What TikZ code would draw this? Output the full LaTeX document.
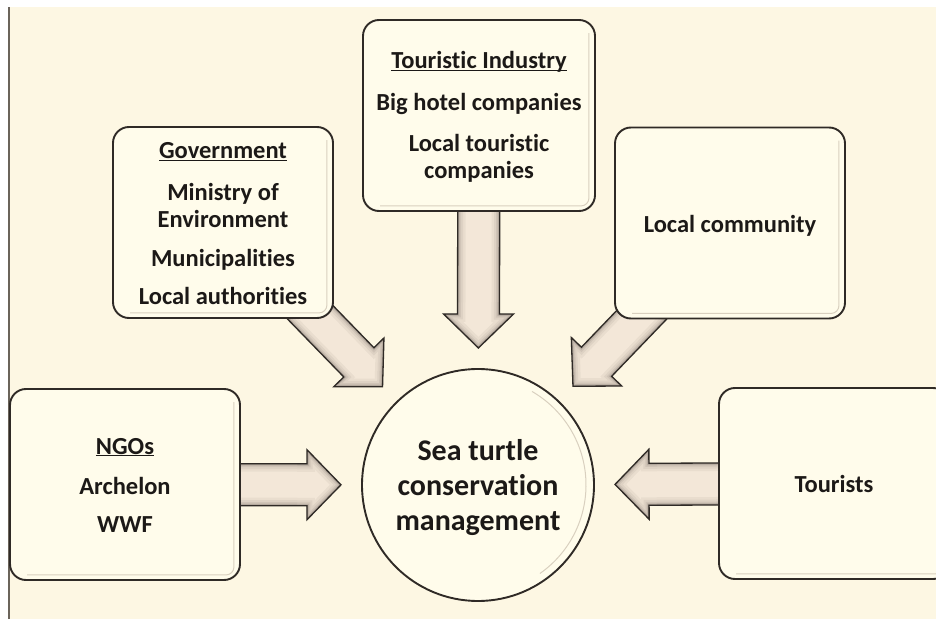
\documentclass[tikz,border=0pt]{standalone}
\usepackage{fontspec}
\setmainfont[Ligatures=NoCommon]{Carlito}
\usetikzlibrary{calc}

\definecolor{paper}{HTML}{FDF7E3}
\definecolor{cardfill}{HTML}{FFFCEB}
\definecolor{ink}{HTML}{2F2A26}
\definecolor{textink}{HTML}{1C1917}
\definecolor{arrowbeige}{HTML}{F3E7D8}
\definecolor{edgegray}{HTML}{6B645A}
\definecolor{bevelline}{HTML}{D9D0BF}

\pgfdeclarelayer{paperlayer}
\pgfdeclarelayer{arrowlayer}
\pgfsetlayers{paperlayer,arrowlayer,main}

% underlined heading whose rule ignores descenders
\newcommand\undl[1]{\underline{\smash{#1}}}
% room above the first line of a text block
\newcommand\topgap[1]{\rule{0pt}{#1}}

% block arrow: #1 name, #2 tail point, #3 tip point
\newcommand\blockarrow[3]{%
  \coordinate (#1-b) at ($(#3)!34pt!(#2)$);
  \coordinate (#1-1) at ($(#2)!21pt!90:(#3)$);
  \coordinate (#1-2) at ($(#1-b)!21pt!90:(#3)$);
  \coordinate (#1-3) at ($(#1-b)!35pt!90:(#3)$);
  \coordinate (#1-4) at ($(#1-b)!35pt!-90:(#3)$);
  \coordinate (#1-5) at ($(#1-b)!21pt!-90:(#3)$);
  \coordinate (#1-6) at ($(#2)!21pt!-90:(#3)$);
  \fill[arrowbeige] (#1-1) -- (#1-2) -- (#1-3) -- (#3) -- (#1-4) -- (#1-5) -- (#1-6) -- cycle;
  \begin{scope}
    \clip (#1-1) -- (#1-2) -- (#1-3) -- (#3) -- (#1-4) -- (#1-5) -- (#1-6) -- cycle;
    \foreach \lw/\op in {16/0.05, 11/0.06, 7/0.08, 4/0.12, 2/0.18}
      \draw[ink, line width=\lw pt, opacity=\op, line join=miter]
        (#1-1) -- (#1-2) -- (#1-3) -- (#3) -- (#1-4) -- (#1-5) -- (#1-6) -- cycle;
  \end{scope}
  \draw[ink, line width=1.3pt, line join=miter]
    (#1-1) -- (#1-2) -- (#1-3) -- (#3) -- (#1-4) -- (#1-5) -- (#1-6) -- cycle;
}

\begin{document}
\begin{tikzpicture}[x=1pt,y=1pt,
  card/.style={draw=ink, line width=1.9pt, fill=cardfill, rounded corners=16pt,
    minimum width=230pt, minimum height=191pt, inner sep=0pt, align=center,
    text=textink, font=\bfseries\fontsize{24.5}{27}\selectfont},
  hubstyle/.style={circle, draw=ink, line width=1.9pt, fill=cardfill,
    minimum size=232pt, inner sep=0pt, align=center, text=textink,
    font=\bfseries\fontsize{30}{35}\selectfont},
  bevel/.style={draw=bevelline, line width=1pt}]

\useasboundingbox (0,0) rectangle (936,619);
\clip (0,0) rectangle (936,619);

\begin{pgfonlayer}{paperlayer}
  \fill[white] (0,0) rectangle (936,619);
  \fill[paper] (8,0) rectangle (936,612);
  \draw[edgegray, line width=1.2pt] (9,0) -- (9,612);
\end{pgfonlayer}

% centre
\node[hubstyle] (hub) at (478,134) {\topgap{26pt}Sea turtle\\conservation\\management};

% stakeholders
\node[card, minimum width=220pt] (gov) at (223,396.5)
  {\topgap{18pt}\undl{Government}\\[15pt]Ministry of\\Environment\\[12pt]Municipalities\\[11pt]Local authorities};
\node[card, minimum width=232pt] (tour) at (479,503.5)
  {\topgap{20pt}\undl{Touristic Industry}\\[15pt]Big hotel companies\\[14pt]Local touristic\\companies};
\node[card] (local) at (730,396) {\topgap{22pt}Local community};
\node[card] (ngo) at (125,134.5) {\topgap{17pt}\undl{NGOs}\\[13pt]Archelon\\[11pt]WWF};
\node[card] (tourists) at (834,135.5) {Tourists};

% inner bevel highlights
\foreach \n in {gov,tour,local,ngo,tourists}
  \draw[bevel] ([xshift=-7pt,yshift=-14pt]\n.north east) [rounded corners=8pt]
    -- ([xshift=-7pt,yshift=6pt]\n.south east) -- ([xshift=18pt,yshift=6pt]\n.south west);
\draw[bevel] ([shift={(hub.center)}]-55:108) arc[start angle=-55, end angle=60, radius=108];

% arrow tips sit just outside the circle
\foreach \n in {gov,tour,local,ngo,tourists}
  \coordinate (tip-\n) at ($(hub.center)!137pt!(\n.center)$);

\begin{pgfonlayer}{arrowlayer}
  \blockarrow{agov}{gov.center}{tip-gov}
  \blockarrow{atour}{tour.center}{tip-tour}
  \blockarrow{alocal}{local.center}{tip-local}
  \blockarrow{ango}{ngo.center}{tip-ngo}
  \blockarrow{atourists}{tourists.center}{tip-tourists}
\end{pgfonlayer}
\end{tikzpicture}
\end{document}
